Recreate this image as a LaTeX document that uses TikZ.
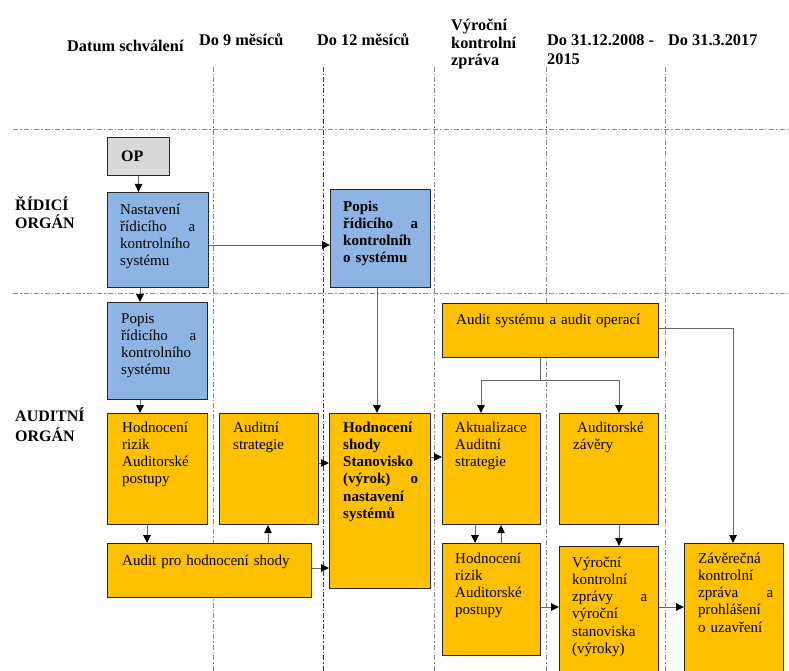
\documentclass[tikz,border=0pt]{standalone}
\usepackage{fontspec}
\setmainfont{Liberation Serif}
\usetikzlibrary{arrows.meta}
\definecolor{orng}{HTML}{FFC000}
\definecolor{blu}{HTML}{8DB4E2}
\definecolor{gry}{HTML}{D9D9D9}
\newcommand\st{\rule{0pt}{12pt}}
\tikzset{
  box/.style={draw=black!85, line width=1.1pt, inner sep=0pt, anchor=north west},
  ob/.style={box, fill=orng},
  bb/.style={box, fill=blu},
  gb/.style={box, fill=gry},
  txt/.style={anchor=north west, inner sep=0pt, align=left, text width=75pt, font=\fontsize{15}{17.2}\selectfont},
  hdr/.style={inner sep=0pt, anchor=base west, font=\fontsize{16.3}{18}\selectfont\bfseries},
  side/.style={inner sep=0pt, anchor=base west, font=\fontsize{16}{18}\selectfont\bfseries},
  conn/.style={draw=black!60, line width=1pt, -{Triangle[length=8pt,width=7.5pt,color=black]}},
  ln/.style={draw=black!60, line width=1pt},
  gridline/.style={draw=black!45, line width=1pt, dash pattern=on 5pt off 2pt on 1.5pt off 2pt},
}
% name, style, x, y, w, h, dx, dy, text
\newcommand\bx[9]{%
  \node[#2, minimum width=#5pt, minimum height=#6pt] (#1) at (#3,#4) {};
  \node[txt] (#1-t) at ([shift={(#7pt,-#8pt)}]#1.north west) {\st #9};
}
\begin{document}
\begin{tikzpicture}[x=1pt,y=-1pt]
\clip (0,0) rectangle (789,671);
\fill[white] (0,0) rectangle (789,671);
% grid
\foreach \gx in {213,434,546,665} {\draw[gridline] (\gx,67) -- (\gx,671);}
\draw[gridline, draw=black!75] (323,67) -- (323,671);
\draw[gridline] (13,130) -- (789,130);
\draw[gridline] (13,293) -- (789,293);
% headers
\node[hdr] (h1) at (67,52) {Datum schválení};
\node[hdr] (h2) at (199,46) {Do 9 měsíců};
\node[hdr] (h3) at (317,46) {Do 12 měsíců};
\node[hdr] (h4a) at (451,31) {Výroční};
\node[hdr] (h4b) at (451,49) {kontrolní};
\node[hdr] (h4c) at (451,66) {zpráva};
\node[hdr] (h5a) at (547,46) {Do 31.12.2008 -};
\node[hdr] (h5b) at (547,65) {2015};
\node[hdr] (h6) at (668,46) {Do 31.3.2017};
% side labels
\node[side] (s1a) at (15,210) {ŘÍDICÍ};
\node[side] (s1b) at (15,228) {ORGÁN};
\node[side] (s2a) at (15,421) {AUDITNÍ};
\node[side] (s2b) at (15,441) {ORGÁN};
% boxes
\node[gb, minimum width=62pt, minimum height=38pt] (op) at (107,137) {};
\node[inner sep=0pt, anchor=base west, font=\fontsize{16}{18}\selectfont\bfseries] (op-t) at (121,162) {OP};
\bx{nast}{bb}{107}{192}{101}{95}{13}{10}{Nastavení\\ řídicího\hfill a\\ kontrolního\\ systému}
\bx{pro}{bb}{330}{189}{100}{98}{13}{10}{\bfseries Popis\\ řídicího\hfill a\\ kontrolníh\\ o systému}
\bx{poa}{bb}{107}{302}{100}{97}{14}{9}{Popis\\ řídicího\hfill a\\ kontrolního\\ systému}
\bx{hr1}{ob}{107}{413}{100}{111}{15}{7}{Hodnocení\\ rizik\\ Auditorské\\ postupy}
\bx{as}{ob}{219}{413}{99}{111}{14}{7}{Auditní\\ strategie}
\bx{hs}{ob}{329}{413}{101}{175}{14}{7}{\bfseries Hodnocení\\ shody\\ Stanovisko\\ (výrok)\hfill o\\ nastavení\\ systémů}
\node[ob, minimum width=204pt, minimum height=54pt] (aph) at (107,543) {};
\node[txt, text width=190pt] (aph-t) at ([shift={(15pt,-10pt)}]aph.north west) {\st Audit pro hodnocení shody};
\node[ob, minimum width=216pt, minimum height=54pt] (aso) at (442,303) {};
\node[txt, text width=200pt] (aso-t) at ([shift={(14pt,-9pt)}]aso.north west) {\st Audit systému a audit operací};
\bx{akt}{ob}{442}{413}{98}{111}{13}{7}{Aktualizace\\ Auditní\\ strategie}
\bx{az}{ob}{559}{413}{99}{111}{14}{7}{\hspace{4pt}Auditorské\\ závěry}
\bx{hr2}{ob}{442}{543}{98}{112}{13}{8}{Hodnocení\\ rizik\\ Auditorské\\ postupy}
\bx{vr}{ob}{559}{546}{99}{140}{13}{9}{Výroční\\ kontrolní\\ zprávy\hfill a\\ výroční\\ stanoviska\\ (výroky)}
\bx{zav}{ob}{684}{543}{99}{140}{14}{8}{Závěrečná\\ kontrolní\\ zpráva\hfill a\\ prohlášení\\ o uzavření}
% helper coordinates
\coordinate (r245) at (0,245);
\coordinate (c140) at (140,0);
\coordinate (c377) at (377,0);
\coordinate (c147) at (147,0);
\coordinate (c268) at (268,0);
\coordinate (r463) at (0,463);
\coordinate (r568) at (0,568);
\coordinate (r457) at (0,457);
\coordinate (split) at (540,380);
\coordinate (c481) at (481,0);
\coordinate (c619) at (619,0);
\coordinate (r328) at (0,328);
\coordinate (c733) at (733,0);
\coordinate (c475) at (475,0);
\coordinate (c501) at (501,0);
\coordinate (r607) at (0,607);
% connectors
\draw[conn] (op.south) -- (op.south |- nast.north);
\draw[conn] (nast.east |- r245) -- (pro.west |- r245);
\draw[conn] (c140 |- nast.south) -- (c140 |- poa.north);
\draw[conn] (c140 |- poa.south) -- (c140 |- hr1.north);
\draw[conn] (c377 |- pro.south) -- (c377 |- hs.north);
\draw[conn] (c147 |- hr1.south) -- (c147 |- aph.north);
\draw[conn] (c268 |- aph.north) -- (c268 |- as.south);
\draw[conn] (as.east |- r463) -- (hs.west |- r463);
\draw[conn] (aph.east |- r568) -- (hs.west |- r568);
\draw[conn] (hs.east |- r457) -- (akt.west |- r457);
\draw[ln] (split |- aso.south) -- (split);
\draw[conn] (split) -| (c481 |- akt.north);
\draw[conn] (split) -| (c619 |- az.north);
\draw[conn] (aso.east |- r328) -| (c733 |- zav.north);
\draw[conn] (c475 |- akt.south) -- (c475 |- hr2.north);
\draw[conn] (c501 |- hr2.north) -- (c501 |- akt.south);
\draw[conn] (c619 |- az.south) -- (c619 |- vr.north);
\draw[conn] (hr2.east |- r607) -- (vr.west |- r607);
\draw[conn] (vr.east |- r607) -- (zav.west |- r607);
\end{tikzpicture}
\end{document}
